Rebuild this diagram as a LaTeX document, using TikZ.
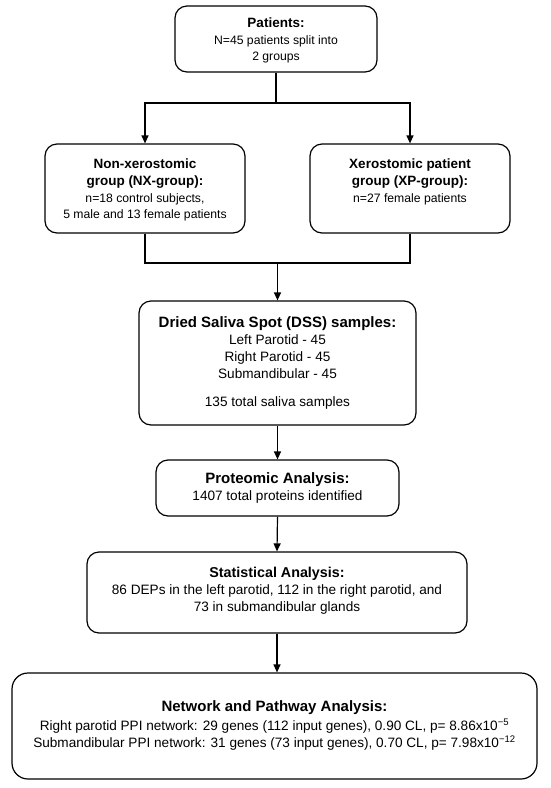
\documentclass[tikz,border=0pt]{standalone}
\usepackage{fontspec}
\setmainfont{Liberation Sans}
\usetikzlibrary{arrows.meta}
\newcommand\hdA[1]{{\bfseries\fontsize{13.5}{16.5}\selectfont #1}}
\newcommand\hdB[1]{{\bfseries\fontsize{15}{17}\selectfont #1}}
\newcommand\hdC[1]{{\bfseries\fontsize{14.3}{17}\selectfont #1}}
\begin{document}
\begin{tikzpicture}[x=1pt,y=-1pt,
  box/.style={draw=black, line width=1.2pt, rounded corners=12pt, inner sep=0pt},
  txt/.style={align=center, inner sep=0pt, font=\fontsize{13.6}{17}\selectfont},
  small/.style={align=center, inner sep=0pt, font=\fontsize{12.2}{16.6}\selectfont},
  link/.style={line width=1.2pt},
  arr/.style={line width=1.2pt, -{Triangle[length=8pt,width=7pt]}}]
\useasboundingbox[fill=white] (0,0) rectangle (550,788);
% boxes
\node[box, minimum width=202pt, minimum height=66pt] (pat) at (276,39) {};
\node[box, minimum width=200pt, minimum height=89pt] (nx) at (145,188.5) {};
\node[box, minimum width=200pt, minimum height=89pt] (xp) at (410,188.5) {};
\node[box, minimum width=277pt, minimum height=124pt] (dss) at (277.5,363) {};
\node[box, minimum width=243pt, minimum height=56pt] (prot) at (277.5,488) {};
\node[box, minimum width=380pt, minimum height=81pt] (stat) at (277,592.5) {};
\node[box, rounded corners=16pt, minimum width=525pt, minimum height=106pt] (net) at (274.5,726) {};
% texts
\node[small, anchor=north] (patt) at (276,17.5) {\hdA{Patients:}\\ N=45 patients split into\\ 2 groups};
\node[small, anchor=north] (nxt) at (145,159) {\hdA{Non-xerostomic}\\ \hdA{group (NX-group):}\\ n=18 control subjects,\\ 5 male and 13 female patients};
\node[small, anchor=north] (xpt) at (410,159) {\hdA{Xerostomic patient}\\ \hdA{group (XP-group):}\\ n=27 female patients};
\node[txt, anchor=north] (dsst) at (277.5,316) {\hdB{Dried Saliva Spot (DSS) samples:}\\ Left Parotid - 45\\ Right Parotid - 45\\ Submandibular - 45\\[11pt] 135 total saliva samples};
\node[txt, anchor=north] (prott) at (277.5,472) {\hdB{Proteomic Analysis:}\\ 1407 total proteins identified};
\node[txt, anchor=north] (statt) at (277,566.5) {\hdC{Statistical Analysis:}\\ 86 DEPs in the left parotid, 112 in the right parotid, and\\ 73 in submandibular glands};
\node[txt, anchor=north, font=\fontsize{13.6}{16.6}\selectfont] (nett) at (274.5,700) {\hdB{Network and Pathway Analysis:}\\[3pt] Right parotid PPI network: 29 genes (112 input genes), 0.90 CL, p= 8.86x10\textsuperscript{−5}\\ Submandibular PPI network: 31 genes (73 input genes), 0.70 CL, p= 7.98x10\textsuperscript{−12}};
% connectors
\coordinate (j1) at (276,103);
\coordinate (j2) at (277.5,263);
\draw[link] (pat.south) -- (j1);
\draw[arr] (j1) -| (nx.north);
\draw[arr] (j1) -| (xp.north);
\draw[link] (nx.south) |- (j2) -| (xp.south);
\draw[arr] (j2) -- (dss.north);
\draw[arr] (dss.south) -- (prot.north);
\draw[arr] (prot.south) -- (stat.north);
\draw[arr] (stat.south) -- (stat.south |- net.north);
\end{tikzpicture}
\end{document}
